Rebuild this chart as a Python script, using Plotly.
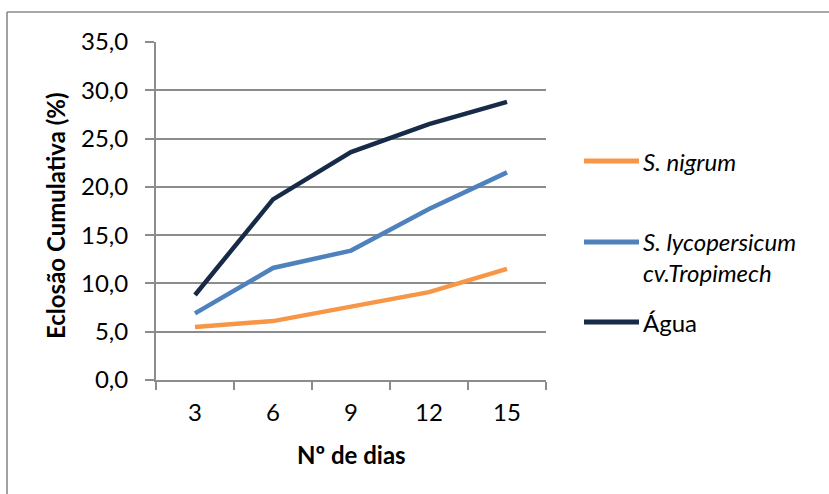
import plotly.graph_objects as go

# Cumulative hatching (%) per number of days
days = ["3", "6", "9", "12", "15"]
s_nigrum = [5.5, 6.1, 7.6, 9.1, 11.5]
s_lycopersicum = [6.9, 11.6, 13.4, 17.7, 21.5]
agua = [8.8, 18.7, 23.6, 26.5, 28.8]

series_names = ["S. nigrum", "S. lycopersicum<br>cv.Tropimech", "Água"]
series_italic = [True, True, False]
series_values = [s_nigrum, s_lycopersicum, agua]
series_colors = ["#F79646", "#4F81BD", "#172B49"]

FONT = "Lato"
FS = 24
GRID = "#8C8C8C"

# plot area in pixels (used to place the hand-drawn legend and frame)
W, H = 829, 494
L, R, T, B = 156, 546, 42, 380


def px_x(x):
    return (x - L) / (R - L)


def px_y(y):
    return (B - y) / (B - T)


fig = go.Figure()
for name, vals, col in zip(series_names, series_values, series_colors):
    fig.add_trace(go.Scatter(
        x=days, y=vals, mode="lines", name=name.replace("<br>", " "),
        line=dict(color=col, width=4.5), showlegend=False,
    ))

shapes = []
annotations = []

# outer chart frame (left and top edges)
shapes.append(dict(type="line", xref="paper", yref="paper",
                   x0=px_x(7), x1=px_x(835), y0=px_y(12), y1=px_y(12),
                   line=dict(color="#8A8A8A", width=1.6)))
shapes.append(dict(type="line", xref="paper", yref="paper",
                   x0=px_x(7), x1=px_x(7), y0=px_y(12), y1=px_y(500),
                   line=dict(color="#8A8A8A", width=1.6)))

# legend
legend_rows = [161, 242, 322]
for name, ital, col, yrow in zip(series_names, series_italic, series_colors, legend_rows):
    shapes.append(dict(type="line", xref="paper", yref="paper",
                       x0=px_x(584), x1=px_x(639), y0=px_y(yrow), y1=px_y(yrow),
                       line=dict(color=col, width=5)))
    nlines = name.count("<br>") + 1
    ycenter = yrow + (nlines - 1) * 15
    txt = f"<i>{name}</i>" if ital else name
    annotations.append(dict(xref="paper", yref="paper", x=px_x(641), y=px_y(ycenter),
                            xanchor="left", yanchor="middle", align="left",
                            text=txt, showarrow=False,
                            font=dict(family=FONT, size=FS, color="#000")))

# axis titles
annotations.append(dict(xref="paper", yref="paper", x=px_x(55), y=px_y(215),
                        xanchor="center", yanchor="middle", textangle=-90,
                        text="<b>Eclosão Cumulativa (%)</b>", showarrow=False,
                        font=dict(family=FONT, size=FS, color="#000")))
annotations.append(dict(xref="paper", yref="paper", x=px_x(351), y=px_y(455),
                        xanchor="center", yanchor="middle",
                        text="<b>Nº de dias</b>", showarrow=False,
                        font=dict(family=FONT, size=FS, color="#000")))

fig.update_layout(
    width=W, height=H, autosize=False,
    margin=dict(l=L, r=W - R, t=T, b=H - B, pad=0),
    paper_bgcolor="white", plot_bgcolor="white",
    separators=",.",
    font=dict(family=FONT, size=FS, color="#000"),
    shapes=shapes, annotations=annotations,
    xaxis=dict(type="category", range=[-0.5, len(days) - 0.5],
               showline=True, linecolor=GRID, linewidth=2,
               showgrid=False, ticks="outside", tickson="boundaries",
               ticklen=8, tickwidth=2, tickcolor=GRID,
               ticklabelstandoff=10,
               tickfont=dict(family=FONT, size=FS, color="#000")),
    yaxis=dict(range=[0, 35], dtick=5, tickformat=".1f",
               showline=True, linecolor=GRID, linewidth=2,
               showgrid=True, gridcolor=GRID, gridwidth=2, zeroline=False,
               ticks="outside", ticklen=9, tickwidth=2, tickcolor=GRID,
               ticklabelstandoff=12,
               tickfont=dict(family=FONT, size=FS, color="#000")),
)

fig.write_html("out.html")
